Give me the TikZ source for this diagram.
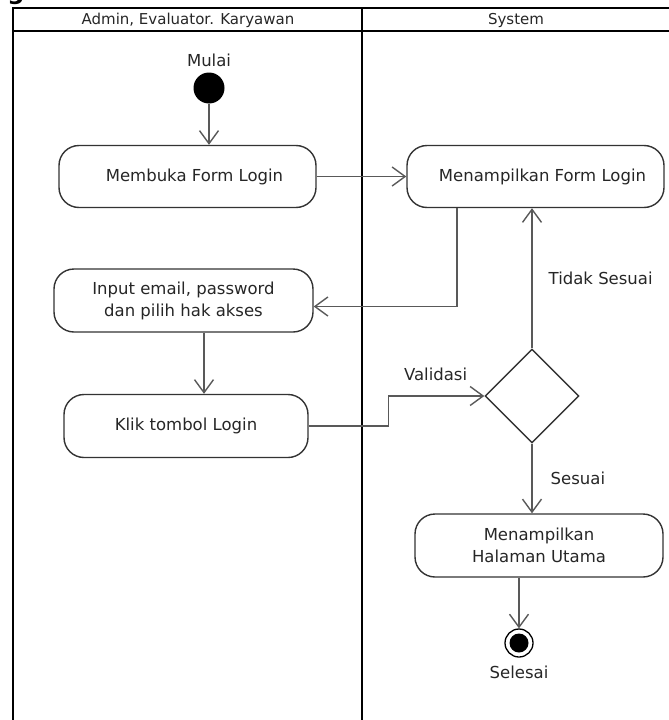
\documentclass[tikz,border=0pt]{standalone}
\usepackage{fontspec}
\setmainfont{DejaVu Sans}
\usetikzlibrary{arrows.meta,positioning,shapes.geometric}

\begin{document}
\begin{tikzpicture}[x=1pt,y=-1pt,>={Straight Barb[length=13pt,width=19pt]},
  act/.style={draw=black!80,line width=1.4pt,rounded corners=20pt,minimum height=62pt,
    align=center,text=black!85,font=\fontsize{16.5}{22}\selectfont},
  flow/.style={->,draw=black!65,line width=1.4pt},
  lbl/.style={text=black!85,font=\fontsize{16.5}{19}\selectfont,inner sep=0pt}]
\useasboundingbox (0,0) rectangle (669,720);
% swimlane frame
\draw[line width=2.6pt] (13,726) |- (672,8);
\draw[line width=2.6pt] (13,31) -- (672,31);
\draw[line width=2.6pt] (362,8) -- (362,726);
\node[lbl,font=\fontsize{15}{18}\selectfont] (lanea) at (188,20) {Admin, Evaluator. Karyawan};
\node[lbl,font=\fontsize{15}{18}\selectfont] (laneb) at (516,20) {System};
\node[anchor=base,inner sep=0pt,font=\bfseries\fontsize{24}{24}\selectfont] (capg) at (16,-1) {g};
% nodes
\node[circle,fill=black,minimum size=31pt,inner sep=0pt] (mulai) at (209,88) {};
\node[lbl,above=5pt of mulai] (tmulai) {Mulai};
\node[act,minimum width=257pt] (membuka) at (187.5,176.5) {\hspace*{14pt}Membuka Form Login};
\node[act,minimum width=257pt] (formlogin) at (535.5,176.5) {\hspace*{14pt}Menampilkan Form Login};
\node[act,minimum width=259pt,minimum height=63pt] (input) at (183.5,300.5) {Input email, password\\dan pilih hak akses};
\node[act,minimum width=244pt,minimum height=63pt] (klik) at (186,426) {Klik tombol Login};
\node[diamond,draw=black!80,line width=1.4pt,minimum size=94pt,inner sep=0pt] (validasi) at (532,396) {};
\node[act,minimum width=248pt,minimum height=63pt] (utama) at (539,545.5) {Menampilkan\\Halaman Utama};
\node[circle,draw=black,line width=1.3pt,minimum size=28pt,inner sep=0pt] (selesai) at (519,643) {};
\node[circle,fill=black,minimum size=19pt,inner sep=0pt] (selesaidot) at (selesai) {};
\node[lbl,below=8pt of selesai] (tselesai) {Selesai};
% connectors
\draw[flow] (mulai) -- (mulai |- membuka.north);
\draw[flow] (membuka) -- (formlogin);
\draw[flow] ([xshift=-78.5pt]formlogin.south) |- ([yshift=-6pt]input.east);
\draw[flow] ([xshift=20.5pt]input.south) coordinate (ia) -- (ia |- klik.north);
\draw[flow] (klik.east) -- ++(80,0) |- (validasi.west);
\node[lbl,anchor=south east] (tvalidasi) at ([xshift=-17pt,yshift=15pt]validasi.west) {Validasi};
\draw[flow] (validasi.north) -- (validasi.north |- formlogin.south)
  node[lbl,midway,right=16pt] (ttidak) {Tidak Sesuai};
\draw[flow] (validasi.south) -- (validasi.south |- utama.north)
  node[lbl,midway,right=18pt] (tsesuai) {Sesuai};
\draw[flow] ([xshift=-20pt]utama.south) -- (selesai.north);
\end{tikzpicture}
\end{document}
